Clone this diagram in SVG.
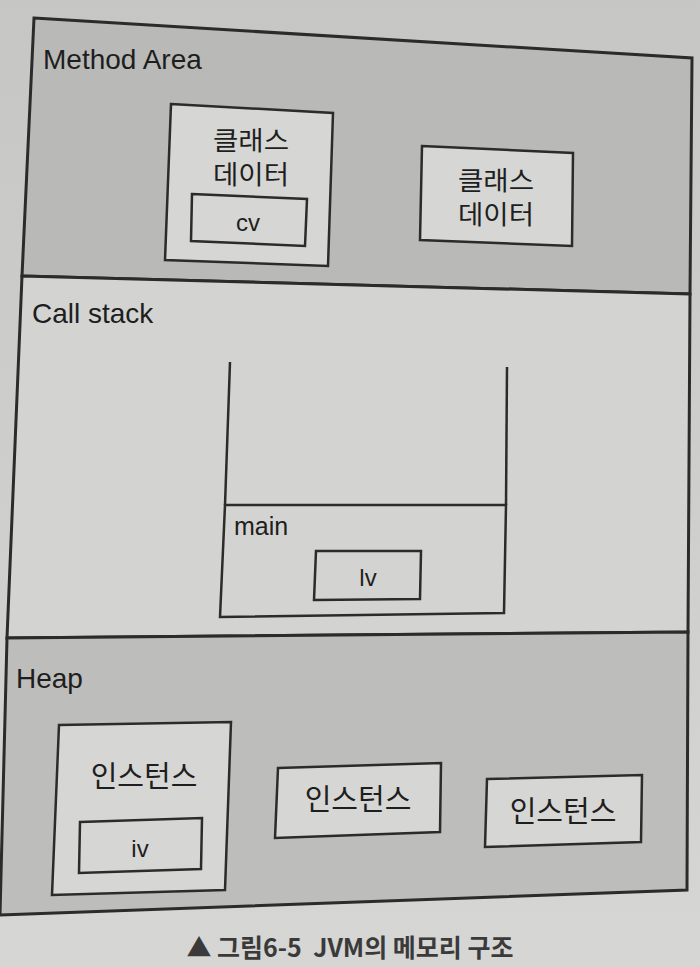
<svg xmlns="http://www.w3.org/2000/svg" width="700" height="967" viewBox="0 0 700 967">
<defs>
<linearGradient id="page" x1="0" y1="0" x2="0" y2="1">
<stop offset="0" stop-color="#c6c6c4"/>
<stop offset="1" stop-color="#d6d6d4"/>
</linearGradient>
</defs>
<style>
.frame{stroke:#2b2b2b;stroke-width:3;stroke-linejoin:miter}
.box{fill:#d6d6d4;stroke:#2b2b2b;stroke-width:2.5}
.lbl{font-family:"Liberation Sans","Noto Sans CJK KR",sans-serif;font-size:28px;fill:#1e1e1e}
.ko{font-family:"Noto Sans CJK KR","Liberation Sans",sans-serif;font-size:26px;fill:#1e1e1e;text-anchor:middle}
.ko2{font-family:"Noto Sans CJK KR","Liberation Sans",sans-serif;font-size:29px;fill:#1e1e1e;text-anchor:middle}
.sm{font-family:"Liberation Sans","Noto Sans CJK KR",sans-serif;font-size:24px;fill:#1e1e1e;text-anchor:middle}
.cap{font-family:"Noto Sans CJK KR","Liberation Sans",sans-serif;font-size:25px;font-weight:bold;fill:#3a3a3a;text-anchor:middle;white-space:pre}
</style>
<rect x="0" y="0" width="700" height="967" fill="url(#page)"/>

<g id="method-area">
<polygon class="frame" fill="#b9b9b7" points="34,18 692,58 690,294 22,276"/>
<text class="lbl" x="43" y="69">Method Area</text>
<g id="class-data-1">
<polygon class="box" points="171,104 333,113 328,266 165,260"/>
<text class="ko" x="251" y="150" textLength="76" lengthAdjust="spacingAndGlyphs">클래스</text>
<text class="ko" x="251" y="184" textLength="76" lengthAdjust="spacingAndGlyphs">데이터</text>
<g id="cv">
<polygon class="box" points="192,194 307,199 305,246 191,241"/>
<text class="sm" x="248" y="231">cv</text>
</g>
</g>
<g id="class-data-2">
<polygon class="box" points="422,146 573,153 572,246 420,240"/>
<text class="ko" x="496" y="190" textLength="76" lengthAdjust="spacingAndGlyphs">클래스</text>
<text class="ko" x="496" y="224" textLength="76" lengthAdjust="spacingAndGlyphs">데이터</text>
</g>
</g>

<g id="call-stack">
<polygon class="frame" fill="#d3d3d1" points="22,276 690,294 688,632 7,638"/>
<text class="lbl" x="32" y="323">Call stack</text>
<g id="stack">
<polyline fill="none" stroke="#2b2b2b" stroke-width="2.5" points="230,362 225,505"/>
<polyline fill="none" stroke="#2b2b2b" stroke-width="2.5" points="507,367 506,505"/>
<g id="main">
<polygon class="box" style="fill:#d3d3d1" points="225,505 506,505 504,613 220,617"/>
<text class="lbl" style="font-size:25px" x="234" y="535">main</text>
<g id="lv">
<polygon class="box" style="fill:#d3d3d1" points="316,551 421,551 420,599 314,600"/>
<text class="sm" x="368" y="586">lv</text>
</g>
</g>
</g>
</g>

<g id="heap">
<polygon class="frame" fill="#bdbdbb" points="7,638 688,632 687,890 0,915"/>
<text class="lbl" x="16" y="688">Heap</text>
<g id="instance-1">
<polygon class="box" points="59,725 231,722 225,890 52,895"/>
<text class="ko2" x="144" y="787">인스턴스</text>
<g id="iv">
<polygon class="box" points="80,822 202,818 201,869 79,873"/>
<text class="sm" x="140" y="857">iv</text>
</g>
</g>
<g id="instance-2">
<polygon class="box" points="278,768 441,763 440,832 275,838"/>
<text class="ko2" x="358" y="810">인스턴스</text>
</g>
<g id="instance-3">
<polygon class="box" points="487,779 642,775 641,842 485,847"/>
<text class="ko2" x="563" y="822">인스턴스</text>
</g>
</g>

<g id="caption">
<text class="cap" x="350" y="957" xml:space="preserve">▲ 그림6-5  JVM의 메모리 구조</text>
</g>
</svg>
